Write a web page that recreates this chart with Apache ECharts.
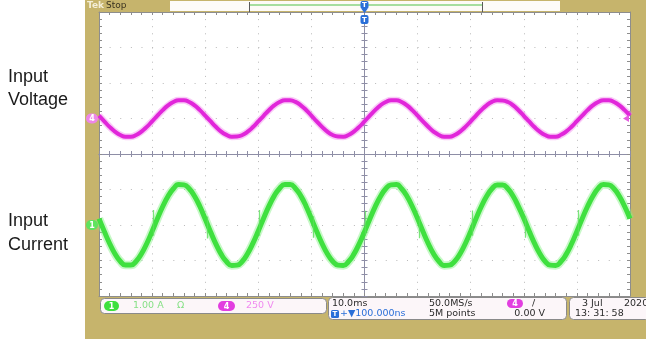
<!DOCTYPE html>
<html>
<head>
<meta charset="utf-8">
<script src="https://cdn.jsdelivr.net/npm/echarts@6/dist/echarts.min.js"></script>
<style>
  html, body { margin: 0; padding: 0; background: #ffffff; }
  #wrap { position: relative; width: 646px; height: 339px; overflow: hidden; }
  #bezel { position: absolute; left: 85px; top: 0; width: 561px; height: 339px; background: #c6b46c; }
  #chart { position: absolute; left: 0; top: 0; width: 646px; height: 339px; }
</style>
</head>
<body>
<div id="wrap">
  <div id="bezel"></div>
  <div id="chart"></div>
</div>
<script>
// Sampling clock of the capture: 1 ms per sample, trigger at t = 0
const timeStartMs = -50;
const sampleStepMs = 1;

// Channel 4: input voltage (V), one reading per sample
const voltageV = [
  20, -20, -59, -92, -116, -128, -128, -116, -92, -59, -20, 20, 59, 92, 116, 128, 128, 116, 92, 59,
  21, -19, -58, -92, -115, -128, -127, -116, -93, -60, -21, 19, 58, 92, 116, 129, 128, 117, 93, 60,
  20, -20, -59, -93, -116, -127, -128, -116, -92, -59, -20, 20, 59, 93, 116, 128, 128, 116, 92, 59,
  20, -20, -58, -92, -116, -128, -128, -116, -92, -59, -20, 21, 60, 93, 117, 128, 127, 116, 92, 58,
  19, -21, -60, -93, -116, -128, -128, -115, -91, -58, -19, 20, 59, 92, 116, 128, 128, 116, 92, 59,
  20
];

// Channel 1: input current (A), one reading per sample
const currentA = [
  0.18, -0.18, -0.52, -0.81, -1.02, -1.13, -1.13, -1.02, -0.81, -0.52, -0.18, 0.18, 0.52, 0.81, 1.02, 1.14, 1.13, 1.02, 0.81, 0.52,
  0.17, -0.19, -0.53, -0.82, -1.03, -1.14, -1.13, -1.02, -0.80, -0.51, -0.17, 0.19, 0.53, 0.82, 1.03, 1.14, 1.14, 1.03, 0.82, 0.53,
  0.18, -0.18, -0.52, -0.81, -1.02, -1.13, -1.14, -1.03, -0.82, -0.53, -0.19, 0.17, 0.51, 0.80, 1.02, 1.13, 1.14, 1.02, 0.81, 0.52,
  0.18, -0.18, -0.52, -0.81, -1.02, -1.14, -1.13, -1.02, -0.81, -0.52, -0.18, 0.18, 0.52, 0.81, 1.02, 1.13, 1.13, 1.02, 0.81, 0.52,
  0.19, -0.17, -0.51, -0.80, -1.02, -1.13, -1.14, -1.03, -0.82, -0.53, -0.18, 0.18, 0.52, 0.81, 1.03, 1.14, 1.13, 1.02, 0.81, 0.52,
  0.18
];

// Current glitches at the zero crossings: time (ms) and vertical extent (A)
const glitchTimeMs = [-39.8, -29.7, -19.8, -9.7, 0.2, 10.3, 20.2, 30.3, 40.2];
const glitchLowA   = [-0.30, -0.38, -0.30, -0.36, -0.30, -0.37, -0.30, -0.36, -0.30];
const glitchHighA  = [ 0.42,  0.24,  0.42,  0.25,  0.40,  0.24,  0.41,  0.25,  0.42];

// Scope settings
const divisionsX = 10, divisionsY = 8;
const timePerDivMs = 10;
const voltsPerDiv = 250, ampsPerDiv = 1;
const ch4OffsetDiv = 1.0;   // voltage trace zero sits one division above centre
const ch1OffsetDiv = -2.0;  // current trace zero sits two divisions below centre

const voltPoints = voltageV.map((v, i) => [timeStartMs + i * sampleStepMs, v]);
const ampPoints = currentA.map((a, i) => [timeStartMs + i * sampleStepMs, a]);
const glitchLines = glitchTimeMs.map((t, i) => ({ coords: [[t, glitchLowA[i]], [t, glitchHighA[i]]] }));

const borderGray = '#8d8d8d';
const centreGray = '#8e8ea6';
const dotGray = '#b9b9b9';

function tickSet(color) {
  return {
    axisTick: { show: true, inside: true, length: 3, lineStyle: { color: color, width: 1 } },
    minorTick: { show: true, splitNumber: 5, length: 3, lineStyle: { color: color, width: 1 } },
    axisLabel: { show: false }
  };
}

const halfX = divisionsX / 2 * timePerDivMs;
const halfY = divisionsY / 2;

const xBase = { type: 'value', min: -halfX, max: halfX, interval: timePerDivMs, gridIndex: 0 };
const yBase = { type: 'value', min: -halfY, max: halfY, interval: 1, gridIndex: 0 };

const option = {
  animation: false,
  grid: { left: 99, right: 16, top: 12, bottom: 43, show: true, backgroundColor: '#ffffff', borderWidth: 0 },
  xAxis: [
    Object.assign({}, xBase, tickSet(borderGray), {
      position: 'bottom',
      axisLine: { show: true, onZero: false, lineStyle: { color: borderGray } },
      splitLine: { show: true, lineStyle: { color: dotGray, width: 1, type: [1, 6.1] } }
    }),
    Object.assign({}, xBase, tickSet(borderGray), {
      position: 'top',
      axisLine: { show: true, onZero: false, lineStyle: { color: borderGray } },
      splitLine: { show: false }
    }),
    Object.assign({}, xBase, tickSet(centreGray), {
      position: 'bottom',
      axisLine: { show: true, onZero: true, onZeroAxisIndex: 0, lineStyle: { color: centreGray } },
      splitLine: { show: false }
    }),
    Object.assign({}, xBase, tickSet(centreGray), {
      position: 'top',
      axisLine: { show: true, onZero: true, onZeroAxisIndex: 0, lineStyle: { color: centreGray } },
      splitLine: { show: false }
    })
  ],
  yAxis: [
    Object.assign({}, yBase, tickSet(borderGray), {
      position: 'left',
      axisLine: { show: true, onZero: false, lineStyle: { color: borderGray } },
      splitLine: { show: true, lineStyle: { color: dotGray, width: 1, type: [1, 9.62] } }
    }),
    Object.assign({}, yBase, tickSet(borderGray), {
      position: 'right',
      axisLine: { show: true, onZero: false, lineStyle: { color: borderGray } },
      splitLine: { show: false }
    }),
    Object.assign({}, yBase, tickSet(centreGray), {
      position: 'left',
      axisLine: { show: true, onZero: true, onZeroAxisIndex: 0, lineStyle: { color: centreGray } },
      splitLine: { show: false }
    }),
    Object.assign({}, yBase, tickSet(centreGray), {
      position: 'right',
      axisLine: { show: true, onZero: true, onZeroAxisIndex: 0, lineStyle: { color: centreGray } },
      splitLine: { show: false }
    }),
    {
      type: 'value', show: false, gridIndex: 0,
      min: (-halfY - ch4OffsetDiv) * voltsPerDiv, max: (halfY - ch4OffsetDiv) * voltsPerDiv
    },
    {
      type: 'value', show: false, gridIndex: 0,
      min: (-halfY - ch1OffsetDiv) * ampsPerDiv, max: (halfY - ch1OffsetDiv) * ampsPerDiv
    }
  ],
  series: [
    {
      name: 'voltage-halo', type: 'line', xAxisIndex: 0, yAxisIndex: 4, data: voltPoints,
      smooth: true, showSymbol: false, silent: true, z: 3,
      lineStyle: { color: '#f07cec', width: 7, opacity: 0.4 }
    },
    {
      name: 'Input Voltage', type: 'line', xAxisIndex: 0, yAxisIndex: 4, data: voltPoints,
      smooth: true, showSymbol: false, silent: true, z: 4,
      lineStyle: { color: '#e126da', width: 4 }
    },
    {
      name: 'current-halo', type: 'line', xAxisIndex: 0, yAxisIndex: 5, data: ampPoints,
      smooth: true, showSymbol: false, silent: true, z: 3,
      lineStyle: { color: '#86f086', width: 8.5, opacity: 0.45 }
    },
    {
      name: 'Input Current', type: 'line', xAxisIndex: 0, yAxisIndex: 5, data: ampPoints,
      smooth: true, showSymbol: false, silent: true, z: 4,
      lineStyle: { color: '#3fe03f', width: 5 }
    },
    {
      name: 'current-glitch', type: 'lines', coordinateSystem: 'cartesian2d',
      xAxisIndex: 0, yAxisIndex: 5, data: glitchLines, silent: true, z: 5,
      lineStyle: { color: '#5ade5a', width: 1.3, opacity: 0.8 }
    }
  ]
};

const chart = echarts.init(document.getElementById('chart'), null, { renderer: 'canvas' });
chart.setOption(option);

// Readout and bezel furniture, anchored on the scales where it marks a level
const yV0 = chart.convertToPixel({ yAxisIndex: 4 }, 0);
const yI0 = chart.convertToPixel({ yAxisIndex: 5 }, 0);
const xTrig = chart.convertToPixel({ xAxisIndex: 0 }, 0);

const uiFont = '"DejaVu Sans", sans-serif';
const dark = '#2b2b2b';
const blue = '#2a6fd8';

function txt(x, y, s, color, size, align, weight) {
  return { type: 'text', x: x, y: y, z: 22,
    style: { text: s, fill: color, font: (weight || 'normal') + ' ' + size + 'px ' + uiFont,
      align: align || 'left', verticalAlign: 'middle' } };
}
function pill(x, y, w, h, fill, label) {
  return { type: 'group', x: x, y: y, z: 21, children: [
    { type: 'rect', z: 21, shape: { x: 0, y: 0, width: w, height: h, r: h / 2 }, style: { fill: fill } },
    { type: 'text', z: 22, x: w / 2, y: h / 2 + 0.5, style: { text: label, fill: '#ffffff',
      font: 'bold 8px ' + uiFont, align: 'center', verticalAlign: 'middle' } }
  ] };
}
function box(x, y, w, h) {
  return { type: 'rect', z: 15, shape: { x: x, y: y, width: w, height: h, r: 4 },
    style: { fill: '#fcf6f9', stroke: '#8a8a8a', lineWidth: 1 } };
}
function label(x, y, s) {
  return { type: 'text', x: x, y: y, z: 20,
    style: { text: s, fill: '#1a1a1a', font: '18px "Liberation Sans", Arial, sans-serif',
      align: 'left', verticalAlign: 'middle' } };
}

const graphics = [
  // side captions
  label(8, 77, 'Input'), label(8, 100, 'Voltage'),
  label(8, 221, 'Input'), label(8, 245, 'Current'),

  // status strip
  txt(87, 6, 'Tek', '#f4efd8', 9, 'left', 'bold'),
  txt(106, 6, 'Stop', '#3a3320', 9),
  { type: 'rect', z: 15, shape: { x: 170, y: 1, width: 390, height: 10 }, style: { fill: '#fdfbf8' } },
  { type: 'rect', z: 16, shape: { x: 250, y: 4, width: 232, height: 2 }, style: { fill: '#a6dea0' } },
  { type: 'line', z: 17, shape: { x1: 249.5, y1: 2, x2: 249.5, y2: 12 }, style: { stroke: '#5a5a5a', lineWidth: 1 } },
  { type: 'line', z: 17, shape: { x1: 482.5, y1: 2, x2: 482.5, y2: 12 }, style: { stroke: '#5a5a5a', lineWidth: 1 } },

  // trigger position marker
  { type: 'group', x: xTrig, y: 0, z: 23, children: [
    { type: 'rect', z: 23, shape: { x: -4, y: 1, width: 8, height: 8, r: 2 }, style: { fill: blue } },
    { type: 'text', z: 24, x: 0, y: 5.5, style: { text: 'T', fill: '#ffffff', font: 'bold 7px ' + uiFont, align: 'center', verticalAlign: 'middle' } },
    { type: 'polygon', z: 23, shape: { points: [[-3, 9], [3, 9], [0, 13]] }, style: { fill: blue } },
    { type: 'rect', z: 23, shape: { x: -4, y: 15, width: 8, height: 9, r: 2 }, style: { fill: blue } },
    { type: 'text', z: 24, x: 0, y: 20, style: { text: 'T', fill: '#ffffff', font: 'bold 7px ' + uiFont, align: 'center', verticalAlign: 'middle' } }
  ] },

  // channel ground markers on the bezel
  pill(86, yV0 - 5, 12, 10, '#ee86e8', '4'),
  pill(86, yI0 - 5, 12, 10, '#5fe35f', '1'),
  // trigger level marker
  { type: 'polygon', z: 21, shape: { points: [[623, yV0], [629, yV0 - 3.5], [629, yV0 + 3.5]] }, style: { fill: '#e55ce0' } },

  // channel readout
  box(100.5, 298.5, 226, 15),
  pill(104, 301, 15, 10, '#3ee03e', '1'),
  txt(133, 306, '1.00 A', '#86e086', 9.5),
  txt(177, 306, 'Ω', '#86e086', 9.5),
  pill(218, 301, 17, 10, '#e23ee0', '4'),
  txt(246, 306, '250 V', '#f08af0', 9.5),

  // timebase / acquisition / trigger readout
  box(328.5, 297.5, 238, 22),
  txt(332, 303.5, '10.0ms', dark, 9.5),
  { type: 'rect', z: 21, shape: { x: 331, y: 310, width: 8, height: 8, r: 1.5 }, style: { fill: blue } },
  txt(335, 314.5, 'T', '#ffffff', 7, 'center', 'bold'),
  txt(340, 314, '+▼100.000ns', blue, 9.5),
  txt(429, 303.5, '50.0MS/s', dark, 9.5),
  txt(429, 314, '5M points', dark, 9.5),
  pill(507, 299, 16, 9, '#e23ee0', '4'),
  txt(532, 303.5, '/', dark, 9.5),
  txt(545, 314, '0.00 V', dark, 9.5, 'right'),

  // date / time readout
  box(569.5, 297.5, 80, 22),
  txt(582, 303.5, '3 Jul', dark, 9.5),
  txt(624, 303.5, '2020', dark, 9.5),
  txt(575, 314, '13: 31: 58', dark, 9.5)
];

chart.setOption({ graphic: graphics });
</script>
</body>
</html>
